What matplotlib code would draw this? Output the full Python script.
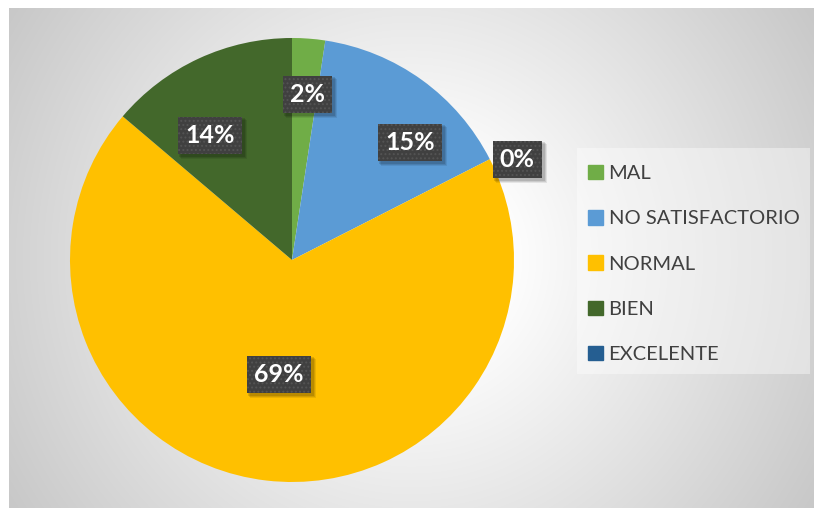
import numpy as np
import matplotlib
matplotlib.use('Agg')
import matplotlib.pyplot as plt
import matplotlib.patches as mpatches
from matplotlib.transforms import IdentityTransform

# data, pie order (clockwise from 12 o'clock)
categories = ['MAL', 'NO SATISFACTORIO', 'EXCELENTE', 'NORMAL', 'BIEN']
values = [2.4, 15.1, 0.0, 68.7, 13.8]
colors = ['#70AD47', '#5B9BD5', '#255E91', '#FFC000', '#43682B']

# legend order
legend_order = ['MAL', 'NO SATISFACTORIO', 'NORMAL', 'BIEN', 'EXCELENTE']

# label placement: angle (deg, clockwise from top) and radius fraction
label_ang = [5.5, 45.2, 66.0, 186.4, 326.5]
label_r = [0.75, 0.75, 1.11, 0.52, 0.67]

plt.rcParams['hatch.linewidth'] = 0.9

W, H = 814, 508
fig = plt.figure(figsize=(W / 100, H / 100), dpi=100)
fig.patch.set_facecolor('white')

# chart area background: radial grey gradient
bg = fig.add_axes([9 / W, 0, 1 - 9 / W, 500 / H])
bg.set_axis_off()
xx, yy = np.meshgrid(np.arange(9, W), np.arange(8, H))
r = np.hypot(xx - 411, yy - 258)
g = np.clip(255 - 0.144 * (r - 90), 195, 255) / 255.0
bg.imshow(np.dstack([g, g, g]), aspect='auto', interpolation='bilinear')

# pie
cx, cy, R = 292, 260, 222
ax = fig.add_axes([(cx - R) / W, (H - cy - R) / H, 2 * R / W, 2 * R / H])
wedges, _ = ax.pie(values, colors=colors, startangle=90, counterclock=False,
                   wedgeprops=dict(linewidth=0))
ax.set_xlim(-1, 1)
ax.set_ylim(-1, 1)
ax.set_axis_off()

total = sum(values)
labels = []
for v, a, lr in zip(values, label_ang, label_r):
    a = np.deg2rad(a)
    t = ax.text(lr * np.sin(a), lr * np.cos(a), '%d%%' % round(100 * v / total),
                ha='center', va='center', fontsize=18, fontweight='bold',
                family='Lato', color='white', zorder=5,
                bbox=dict(boxstyle='square,pad=0.28', facecolor='#404040',
                          edgecolor='#545454', linewidth=0, hatch='....'),
                clip_on=False)
    labels.append(t)

# soft shadow behind each label box
fig.canvas.draw()
for t in labels:
    bb = t.get_bbox_patch().get_window_extent()
    for k, al in [(4, 0.08), (3, 0.1), (2, 0.12)]:
        ax.add_patch(mpatches.Rectangle((bb.x0 + k - 1, bb.y0 - k - 1),
                                        bb.width + 2, bb.height + 2,
                                        transform=IdentityTransform(),
                                        facecolor='black', alpha=al,
                                        edgecolor='none', zorder=4,
                                        clip_on=False))

# legend frame
fig.patches.append(mpatches.Rectangle((577 / W, (H - 374) / H), 233 / W, 226 / H,
                                      transform=fig.transFigure,
                                      facecolor='white', alpha=0.4,
                                      edgecolor='none'))
handles = [mpatches.Patch(color=colors[categories.index(c)]) for c in legend_order]
fig.legend(handles, legend_order, loc='upper left',
           bbox_to_anchor=(588 / W, (H - 165) / H), frameon=False,
           prop=dict(family='Lato', size=14.5), labelcolor='#404040',
           handlelength=0.72, handleheight=0.72, handletextpad=0.3,
           labelspacing=1.39, borderpad=0, borderaxespad=0)

fig.savefig('out.png', dpi=100)
